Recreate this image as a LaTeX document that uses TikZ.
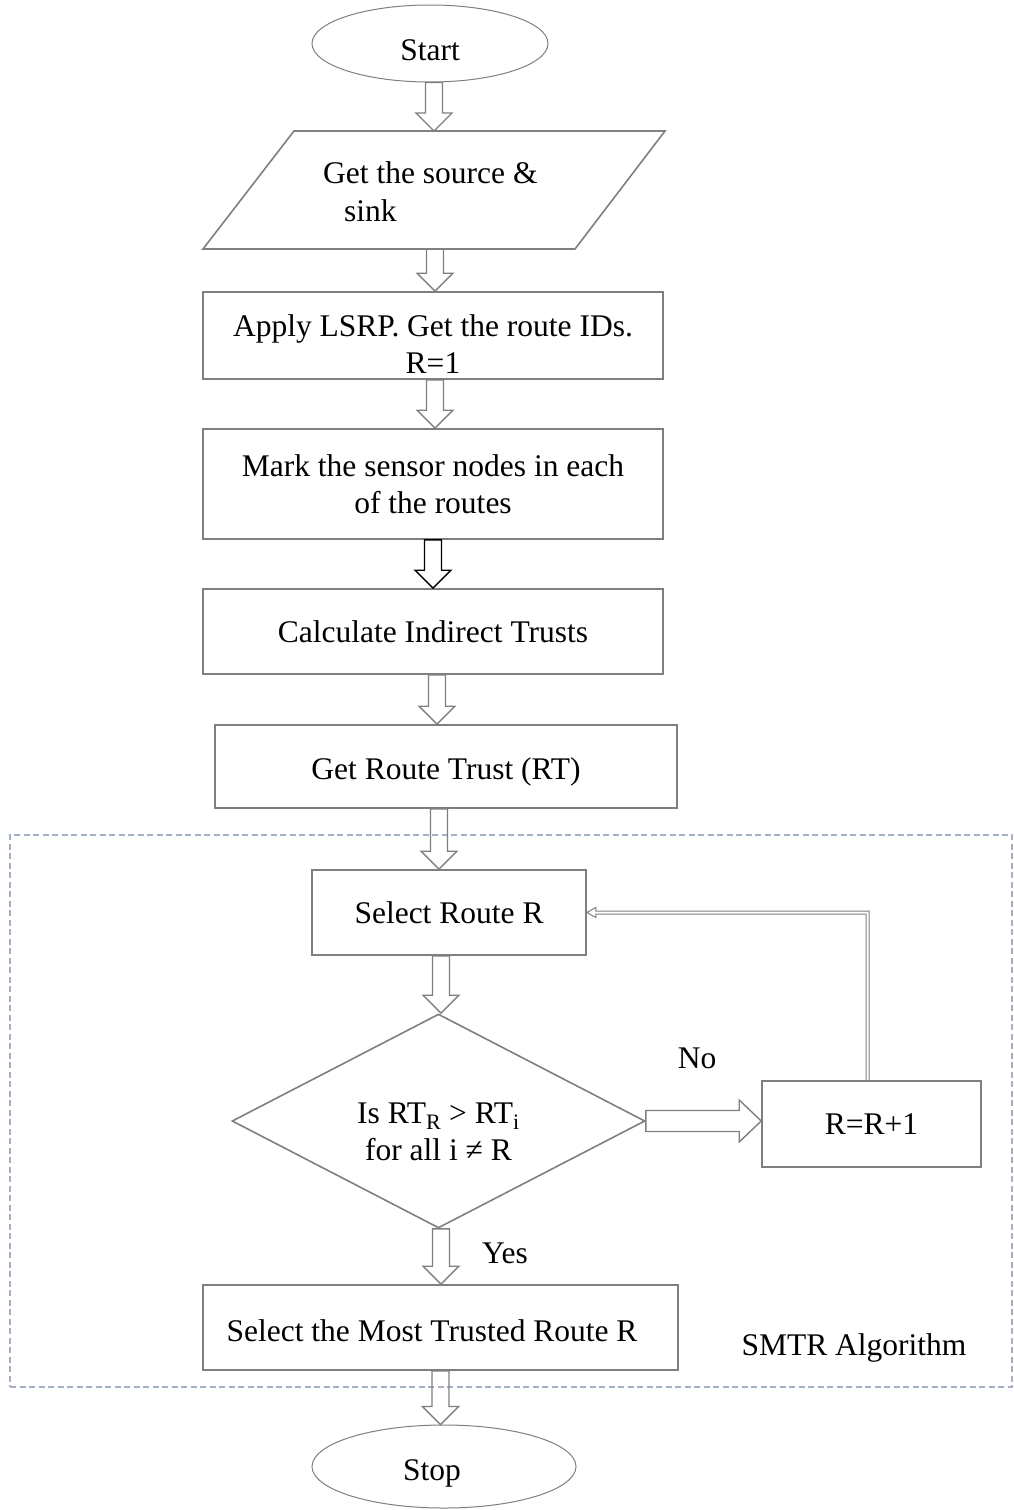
\documentclass[tikz,border=0pt]{standalone}
\usepackage{fontspec}
\setmainfont{Liberation Serif}
\usetikzlibrary{shapes.geometric,calc}

\definecolor{edgegrey}{HTML}{7F7F7F}
\definecolor{framegrey}{HTML}{A3B0C6}

\tikzset{
  every node/.style={font=\fontsize{31.5}{37}\selectfont, inner sep=0pt},
  procbox/.style={draw=edgegrey, line width=1.6pt, rectangle, align=center},
  terminal/.style={draw=edgegrey, line width=1pt, ellipse, text height=36pt, text depth=2pt},
  decision/.style={draw=edgegrey, line width=1.6pt, diamond},
  iobox/.style={draw=edgegrey, line width=1.6pt, line join=miter},
  blk/.style={draw=edgegrey, line width=1.4pt, line join=miter},
  blkdark/.style={blk, draw=black},
  loopline/.style={draw=edgegrey, line width=1pt, line join=miter},
  frame/.style={draw=framegrey, line width=2pt, dash pattern=on 6pt off 3.5pt},
}

% hollow block arrow pointing down: [style]{from}{to}
\newcommand\downblock[3][blk]{%
  \draw[#1] let \p1=(#2), \p2=(#3) in
    (\x1-8.5pt,\y1) -- (\x1+8.5pt,\y1) -- (\x1+8.5pt,\y2+18pt)
    -- (\x1+18pt,\y2+18pt) -- (\x1,\y2) -- (\x1-18pt,\y2+18pt)
    -- (\x1-8.5pt,\y2+18pt) -- cycle;}

\begin{document}
\begin{tikzpicture}[x=1pt,y=-1pt]
\useasboundingbox (0,0) rectangle (1013,1510);

% dashed frame of the SMTR part
\node[frame, minimum width=1002pt, minimum height=552pt] (smtr) at (511,1110.5) {};
\node (smtrlabel) at (854,1348) {SMTR Algorithm};

% terminals
\node[terminal, minimum width=236pt, minimum height=77pt] (start) at (430,43.5) {Start};
\node[terminal, minimum width=264pt, minimum height=83pt] (stop) at (444,1466.5) {};
\node (stoptext) at (432,1473) {Stop};

% input: parallelogram
\draw[iobox] (294,131) -- (665,131) -- (575,249) -- (203,249) -- cycle;
\coordinate (srcTop) at (434,131);
\coordinate (srcBot) at (435,249);
\node[anchor=west] (srcl1) at (323,173) {Get the source \&};
\node[anchor=west] (srcl2) at (344,211) {sink};

% process steps
\node[procbox, minimum width=460pt, minimum height=87pt] (lsrp) at (433,335.5) {};
\node[align=center] (lsrptext) at (433,344) {Apply LSRP. Get the route IDs.\\R=1};
\node[procbox, minimum width=460pt, minimum height=110pt] (mark) at (433,484)
  {Mark the sensor nodes in each\\of the routes};
\node[procbox, minimum width=460pt, minimum height=85pt] (calc) at (433,631.5)
  {Calculate Indirect Trusts};
\node[procbox, minimum width=462pt, minimum height=83pt] (rt) at (446,766.5) {};
\node (rttext) at (446,772) {Get Route Trust (RT)};
\node[procbox, minimum width=274pt, minimum height=85pt] (sel) at (449,912.5)
  {Select Route R};
\node[decision, minimum width=413pt, minimum height=214pt] (dec) at (438.5,1121) {};
\node[align=center] (decq) at (438.5,1132)
  {Is RT\textsubscript{R} > RT\textsubscript{i}\\for all i ≠ R};
\node[procbox, minimum width=219pt, minimum height=86pt] (rr) at (871.5,1124) {R=R+1};
\node[procbox, minimum width=475pt, minimum height=85pt] (most) at (440.5,1327.5) {};
\node (mosttext) at (432,1331) {Select the Most Trusted Route R};

% branch labels
\node (nolab) at (697,1058) {No};
\node (yeslab) at (505,1253) {Yes};

% flow arrows
\downblock{$(start.south)+(4,0)$}{srcTop}
\downblock{srcBot}{lsrp.north}
\downblock{$(lsrp.south)+(2,0)$}{mark.north}
\downblock[blkdark]{mark.south}{calc.north}
\downblock{$(calc.south)+(4,0)$}{rt.north}
\downblock{$(rt.south)+(-7,0)$}{sel.north}
\downblock{$(sel.south)+(-8,0)$}{dec.north}
\downblock{$(dec.south)+(2.5,0)$}{most.north}
\downblock{most.south}{stop.north}

% "No" branch
\draw[blk] let \p1=(dec.east), \p2=(rr.west) in
  (\x1,\y1+10.5pt) -- (\x2-22pt,\y1+10.5pt) -- (\x2-22pt,\y1+21pt) -- (\x2,\y1)
  -- (\x2-22pt,\y1-21pt) -- (\x2-22pt,\y1-10.5pt) -- (\x1,\y1-10.5pt) -- cycle;

% loop back to route selection
\draw[loopline] let \p1=($(rr.north)+(-4,0)$), \p2=(sel.east) in
  (\x1+1.5pt,\y1) -- (\x1+1.5pt,\y2+1.5pt) -- (\x2+9pt,\y2+1.5pt) -- (\x2+9pt,\y2+5pt)
  -- (\x2,\y2) -- (\x2+9pt,\y2-5pt) -- (\x2+9pt,\y2-1.5pt) -- (\x1-1.5pt,\y2-1.5pt)
  -- (\x1-1.5pt,\y1);
\end{tikzpicture}
\end{document}
